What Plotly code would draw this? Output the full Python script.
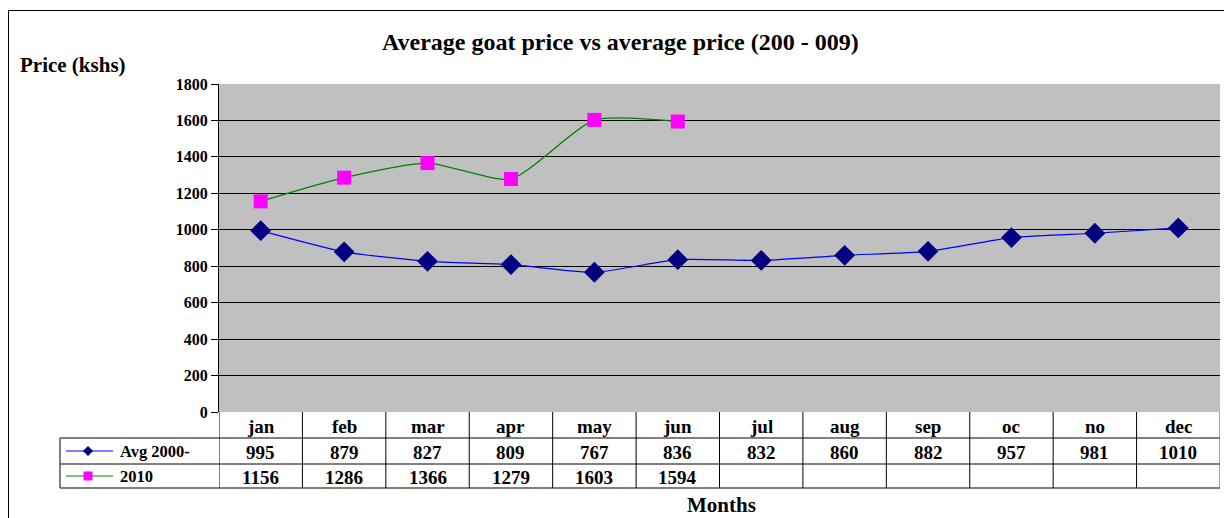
import plotly.graph_objects as go

months = ["jan", "feb", "mar", "apr", "may", "jun", "jul", "aug", "sep", "oc", "no", "dec"]
avg_2000 = [995, 879, 827, 809, 767, 836, 832, 860, 882, 957, 981, 1010]
y2010 = [1156, 1286, 1366, 1279, 1603, 1594, None, None, None, None, None, None]
series_names = ["Avg 2000-", "2010"]
y_ticks = [0, 200, 400, 600, 800, 1000, 1200, 1400, 1600, 1800]

# page offset (body margin) compensation
OX, OY = 8, 8
W, H = 1232 - OX, 518 - OY
L, R, T, B = 219, 1220, 84, 412   # plot area in page pixels
FONT = "Liberation Serif"

def px(x):
    return (x - L) / (R - L)

def py(y):
    return (B - y) / (B - T)

idx = list(range(len(months)))

fig = go.Figure()
fig.add_trace(go.Scatter(
    x=idx, y=avg_2000, mode="lines+markers", name=series_names[0],
    line=dict(color="#0000FF", width=1.2, shape="spline", smoothing=0.6),
    marker=dict(symbol="diamond", size=16, color="#000080"),
    cliponaxis=False,
))
fig.add_trace(go.Scatter(
    x=idx, y=y2010, mode="lines+markers", name=series_names[1],
    line=dict(color="#008000", width=1.2, shape="spline", smoothing=0.6),
    marker=dict(symbol="square", size=14, color="#FF00FF"),
    cliponaxis=False,
))

shapes = []
ann = []
lc = "#000000"

# outer chart border
shapes.append(dict(type="path", xref="paper", yref="paper",
                   path=f"M {px(8.5)},{py(530)} L {px(8.5)},{py(10.5)} L {px(1230)},{py(10.5)} L {px(1230)},{py(530)}",
                   line=dict(color="#000000", width=1)))

# table grid
shapes.append(dict(type="line", xref="paper", yref="paper", x0=px(60), x1=px(R), y0=py(438), y1=py(438), line=dict(color=lc, width=1)))
shapes.append(dict(type="line", xref="paper", yref="paper", x0=px(60), x1=px(R), y0=py(464), y1=py(464), line=dict(color=lc, width=1)))
shapes.append(dict(type="line", xref="paper", yref="paper", x0=px(60), x1=px(R), y0=py(488), y1=py(488), line=dict(color="#555555", width=1.5)))
shapes.append(dict(type="line", xref="paper", yref="paper", x0=px(60), x1=px(60), y0=py(438), y1=py(488), line=dict(color="#555555", width=1.5)))
for i in range(len(months) + 1):
    shapes.append(dict(type="line", xref="x", yref="paper", x0=i - 0.5, x1=i - 0.5,
                       y0=py(412), y1=py(488), line=dict(color="#555555" if i == len(months) else lc, width=1)))

# month header and values
row_y = [426, 452, 477]
cell_font = dict(family=FONT, size=19, color="black", weight="bold")

def add_text(x, y, text, font, xref="x", xanchor="center"):
    ann.append(dict(x=x, y=y, xref=xref, yref="paper", text=text, showarrow=False,
                    xanchor=xanchor, yanchor="middle", font=font))

for i, m in enumerate(months):
    add_text(i, py(row_y[0]), m, cell_font)
    add_text(i, py(row_y[1]), str(avg_2000[i]), cell_font)
    if y2010[i] is not None:
        add_text(i, py(row_y[2]), str(y2010[i]), cell_font)

# legend keys in table
shapes.append(dict(type="line", xref="paper", yref="paper", x0=px(66), x1=px(113), y0=py(451), y1=py(451),
                   line=dict(color="#0000FF", width=1.2)))
d = 5
shapes.append(dict(type="path", xref="paper", yref="paper",
                   path=f"M {px(88-d)},{py(451)} L {px(88)},{py(451-d)} L {px(88+d)},{py(451)} L {px(88)},{py(451+d)} Z",
                   fillcolor="#000080", line=dict(color="#000080", width=0)))
shapes.append(dict(type="line", xref="paper", yref="paper", x0=px(66), x1=px(113), y0=py(476), y1=py(476),
                   line=dict(color="#008000", width=1.2)))
s = 4.5
shapes.append(dict(type="rect", xref="paper", yref="paper", x0=px(88-s), x1=px(88+s), y0=py(476+s), y1=py(476-s),
                   fillcolor="#FF00FF", line=dict(color="#FF00FF", width=0)))
leg_font = dict(family=FONT, size=16.5, color="black", weight="bold")
add_text(px(118), py(451), series_names[0], leg_font, xref="paper", xanchor="left")
add_text(px(118), py(476), series_names[1], leg_font, xref="paper", xanchor="left")

# titles
add_text(px(620), py(42), "Average goat price vs average price (200 - 009)",
         dict(family=FONT, size=24, color="black", weight="bold"), xref="paper")
add_text(px(18), py(65), "Price (kshs)",
         dict(family=FONT, size=21, color="black", weight="bold"), xref="paper", xanchor="left")
add_text(px(721), py(505), "Months",
         dict(family=FONT, size=21, color="black", weight="bold"), xref="paper")

fig.update_layout(
    width=W, height=H,
    margin=dict(l=L - OX, r=(W + OX) - R, t=T - OY, b=(H + OY) - B),
    paper_bgcolor="white", plot_bgcolor="#C0C0C0",
    showlegend=False,
    shapes=shapes, annotations=ann,
    xaxis=dict(range=[-0.5, len(months) - 0.5], showticklabels=False, showgrid=False, zeroline=False,
               showline=False, ticks=""),
    yaxis=dict(range=[0, 1800], tickvals=y_ticks, showgrid=True, gridcolor="#000000", gridwidth=1,
               zeroline=False, showline=True, linecolor="black", linewidth=1, ticks="outside", ticklen=7,
               tickcolor="black", tickfont=dict(family=FONT, size=16, color="black", weight="bold")),
)
fig.write_html("out.html")
